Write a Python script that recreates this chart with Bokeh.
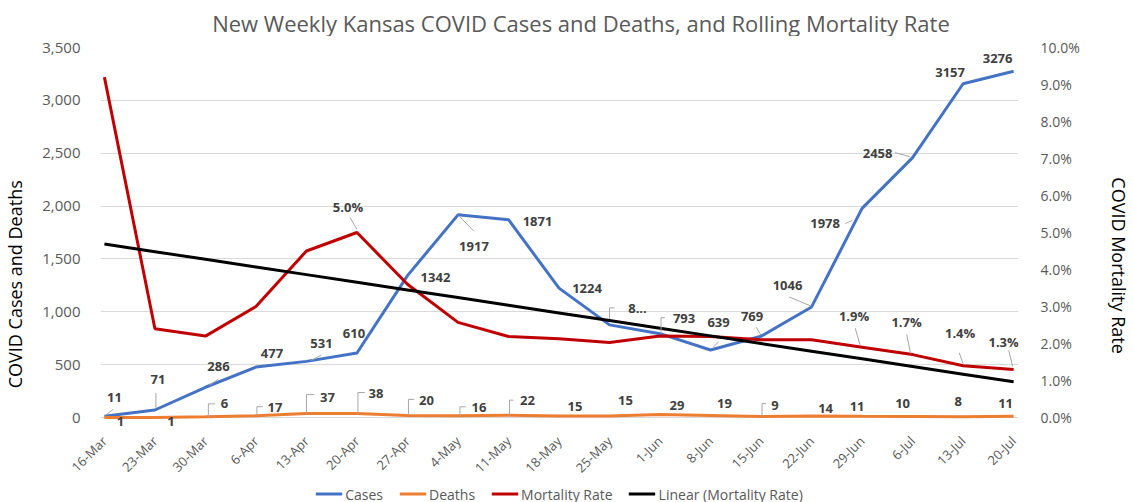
import numpy as np
from bokeh.plotting import figure
from bokeh.layouts import column
from bokeh.models import (ColumnDataSource, LinearAxis, Range1d, FixedTicker,
                          NumeralTickFormatter, PrintfTickFormatter, LabelSet,
                          Label, Legend, LegendItem)
from bokeh.core.properties import value
from bokeh.embed import file_html
from bokeh.resources import INLINE

# ---------------- data ----------------
title_text = "New Weekly Kansas COVID Cases and Deaths, and Rolling Mortality Rate"
weeks = ["16-Mar", "23-Mar", "30-Mar", "6-Apr", "13-Apr", "20-Apr", "27-Apr",
         "4-May", "11-May", "18-May", "25-May", "1-Jun", "8-Jun", "15-Jun",
         "22-Jun", "29-Jun", "6-Jul", "13-Jul", "20-Jul"]
cases = [11, 71, 286, 477, 531, 610, 1342, 1917, 1871, 1224, 876, 793, 639,
         769, 1046, 1978, 2458, 3157, 3276]
deaths = [1, 1, 6, 17, 37, 38, 20, 16, 22, 15, 15, 29, 19, 9, 14, 11, 10, 8, 11]
mortality = [9.2, 2.4, 2.2, 3.0, 4.5, 5.0, 3.6, 2.57, 2.19, 2.13, 2.03, 2.2,
             2.19, 2.1, 2.1, 1.9, 1.7, 1.4, 1.3]
case_labels = [str(c) for c in cases]
case_labels[10] = "8..."
rate_label_idx = [5, 15, 16, 17, 18]
rate_label_text = ["5.0%", "1.9%", "1.7%", "1.4%", "1.3%"]
left_ticks = [0, 500, 1000, 1500, 2000, 2500, 3000, 3500]
right_ticks = [0, 1, 2, 3, 4, 5, 6, 7, 8, 9, 10]

# label placement (screen px; dx right, dy up)
case_dx = [10, 3, 13, 16, 15, -3, 28, 16, 29, 28, 28, 24, 8, -9, -24, -37, -35, -13, -16]
case_dy = [19, 30, 21, 14, 18, 20, -2, -32, -2, 0, 16, 15, 27, 20, 21, -15, 4, 11, 13]
death_dx = [16, 16, 19, 19, 21, 19, 19, 21, 19, 16, 16, 17, 14, 14, 14, -5, -10, -5, -8]
death_dy = [-4, -4, 13, 8, 16, 20, 15, 8, 15, 9, 15, 9, 12, 11, 8, 10, 13, 15, 13]
rate_dx = [-9, -8, -6, -3, -10]
rate_dy = [26, 31, 33, 33, 27]

# leader lines (screen px relative to the data point; dx right, dy up)
case_leaders = {0: [(1, 1), (9, 7)], 1: [(1, 2), (1, 17)], 2: [(4, 2), (13, 8)],
                4: [(5, 1), (15, 6)], 7: [(1, -1), (16, -16)],
                10: [(0, 6), (0, 17), (5, 17)], 11: [(1, 0), (1, 16), (5, 16)],
                12: [(3, 3), (8, 8)], 13: [(0, 1), (-5, 9)], 14: [(-1, 1), (-23, 10)],
                15: [(-17, -15), (-10, -12)], 16: [(-18, 5), (-3, 1)]}
death_leaders = {2: [(3, 0), (3, 13), (10, 13)], 3: [(1, 0), (1, 9), (7, 9)],
                 4: [(0, 0), (0, 19), (8, 19)], 5: [(1, 0), (1, 21), (8, 21)],
                 6: [(1, 0), (1, 16), (7, 16)], 7: [(2, 0), (2, 9), (8, 9)],
                 8: [(1, 0), (1, 15), (5, 15)], 13: [(1, 0), (1, 13), (5, 13)]}
rate_leaders = {5: [(-7, 15), (0, 3)], 15: [(-7, 19), (-2, 2)], 16: [(-6, 20), (-2, 1)],
                17: [(-4, 13), (0, 2)], 18: [(-5, 19), (-1, 3)]}

# ---------------- layout ----------------
W = 1133
H_TITLE, H_LEG = 36, 17
BL, BT, FW, FH, BB = 91, 11, 939, 380, 58
H_MAIN = BT + FH + BB
BR = W - BL - FW
px_x = 930 / 18.0
x0, x1 = -4 / px_x, 18 + 5 / px_x
y1 = 3500
px_y = 370 / 3500.0
y0 = y1 - FH / px_y
px_rate = 370 / 10.0

FONT = "Open Sans"
GREY = "#595959"
DARK = "#404040"
NB = "\u00a0"

idx = list(range(len(weeks)))
coef = np.polyfit(idx, mortality, 1)
trend = np.polyval(coef, idx)

# ---------------- title strip ----------------
pt = figure(width=W, height=H_TITLE, output_backend="svg", toolbar_location=None,
            x_range=Range1d(0, W), y_range=Range1d(H_TITLE, 0), title=None,
            x_axis_location=None, y_axis_location=None, min_border=0)
pt.outline_line_color = None
pt.grid.visible = False
pt.add_layout(Label(x=593, y=22, text=title_text, text_font=FONT,
                    text_font_size="22px", text_color=GREY,
                    text_align="center", text_baseline="middle"))

# ---------------- main chart ----------------
p = figure(width=W, height=H_MAIN, output_backend="svg", toolbar_location=None,
           x_range=Range1d(x0, x1), y_range=Range1d(y0, y1), title=None,
           min_border_left=BL, min_border_right=BR, min_border_top=BT,
           min_border_bottom=BB)
p.extra_y_ranges = {"rate": Range1d(y0 / 350.0, 10)}
p.outline_line_color = None

p.xaxis.ticker = FixedTicker(ticks=idx)
p.xaxis.major_label_overrides = {i: w for i, w in enumerate(weeks)}
p.xaxis.major_label_orientation = np.pi / 4
p.xaxis.axis_line_color = None
p.xaxis.major_tick_line_color = None
p.xaxis.minor_tick_line_color = None
p.xaxis.major_label_text_font = FONT
p.xaxis.major_label_text_font_size = "13px"
p.xaxis.major_label_text_color = GREY
p.xaxis.major_label_standoff = 5

p.yaxis.ticker = FixedTicker(ticks=left_ticks)
p.yaxis.formatter = NumeralTickFormatter(format="0,0")
p.yaxis.axis_line_color = None
p.yaxis.major_tick_line_color = None
p.yaxis.minor_tick_line_color = None
p.yaxis.major_label_text_font = FONT
p.yaxis.major_label_text_font_size = "15px"
p.yaxis.major_label_text_color = GREY
p.yaxis.major_label_standoff = 14
p.yaxis.axis_label = "COVID Cases  and Deaths" + NB * 19
p.yaxis.axis_label_text_font = FONT
p.yaxis.axis_label_text_font_size = "18px"
p.yaxis.axis_label_text_font_style = "normal"
p.yaxis.axis_label_text_color = "#000000"
p.yaxis.axis_label_standoff = 12

ax2 = LinearAxis(y_range_name="rate", ticker=FixedTicker(ticks=right_ticks),
                 formatter=PrintfTickFormatter(format="%.1f%%"))
ax2.axis_line_color = None
ax2.major_tick_line_color = None
ax2.minor_tick_line_color = None
ax2.major_label_text_font = FONT
ax2.major_label_text_font_size = "14px"
ax2.major_label_text_color = GREY
ax2.major_label_standoff = 16
ax2.axis_label = NB * 12 + "COVID Mortality Rate"
ax2.axis_label_text_font = FONT
ax2.axis_label_text_font_size = "18px"
ax2.axis_label_text_font_style = "normal"
ax2.axis_label_text_color = "#000000"
ax2.axis_label_standoff = 24
p.add_layout(ax2, "right")

p.xgrid.grid_line_color = None
p.ygrid.ticker = FixedTicker(ticks=left_ticks)
p.ygrid.grid_line_color = "#D9D9D9"
p.ygrid.grid_line_width = 1

COLORS = {"Cases": "#4472C4", "Deaths": "#ED7D31", "Mortality Rate": "#C00000",
          "Linear (Mortality Rate)": "#000000"}
p.line(idx, cases, line_color=COLORS["Cases"], line_width=3)
p.line(idx, deaths, line_color=COLORS["Deaths"], line_width=3)
p.line(idx, mortality, line_color=COLORS["Mortality Rate"], line_width=3, y_range_name="rate")
p.line(idx, trend, line_color=COLORS["Linear (Mortality Rate)"], line_width=3, y_range_name="rate")


def add_leaders(series, leaders, ppu, rng="default"):
    xs, ys = [], []
    for i, pts in leaders.items():
        xs.append([i + dx / px_x for dx, dy in pts])
        ys.append([series[i] + dy / ppu for dx, dy in pts])
    p.multi_line(xs, ys, line_color="#A6A6A6", line_width=1, y_range_name=rng)


add_leaders(cases, case_leaders, px_y)
add_leaders(deaths, death_leaders, px_y)
add_leaders(mortality, rate_leaders, px_rate, "rate")


def add_labels(xs, ys, texts, dxs, dys, rng="default"):
    src = ColumnDataSource(dict(x=xs, y=ys, t=texts, dx=dxs, dy=dys))
    ls = LabelSet(x="x", y="y", text="t", x_offset="dx", y_offset="dy", source=src,
                  text_font=value(FONT), text_font_size="13px", text_font_style="bold",
                  text_color=DARK, text_align="center", text_baseline="middle",
                  y_range_name=rng)
    p.add_layout(ls)


add_labels(idx, cases, case_labels, case_dx, case_dy)
add_labels(idx, deaths, [str(d) for d in deaths], death_dx, death_dy)
add_labels(rate_label_idx, [mortality[i] for i in rate_label_idx], rate_label_text,
           rate_dx, rate_dy, "rate")

# ---------------- legend strip ----------------
pl = figure(width=W, height=H_LEG, output_backend="svg", toolbar_location=None,
            x_range=Range1d(0, 1), y_range=Range1d(0, 1), title=None,
            x_axis_location=None, y_axis_location=None, min_border=0)
pl.outline_line_color = None
pl.grid.visible = False
items = []
for name, col in COLORS.items():
    r = pl.line([-5, -4], [-5, -4], line_color=col, line_width=3)
    items.append(LegendItem(label=name, renderers=[r]))
legend = Legend(items=items, orientation="horizontal", location="center",
                glyph_width=27, glyph_height=14, label_height=14, label_standoff=3,
                spacing=16, padding=0, margin=0, border_line_color=None,
                background_fill_alpha=0, label_text_font=FONT,
                label_text_font_size="14px", label_text_color=GREY)
pl.add_layout(legend, "center")

open("out.html", "w").write(file_html(column(pt, p, pl, spacing=0), INLINE))
